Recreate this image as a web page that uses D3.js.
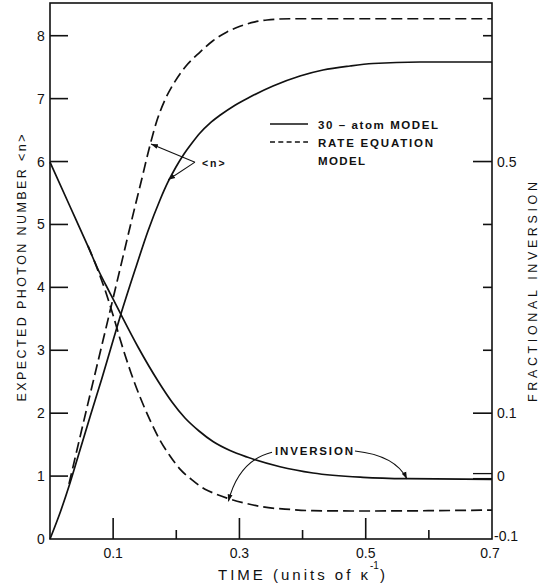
<!DOCTYPE html>
<html>
<head>
<meta charset="utf-8">
<script src="https://cdn.jsdelivr.net/npm/d3@7"></script>
<style>
  html, body { margin: 0; padding: 0; background: #fff; }
  svg { display: block; }
  text { font-family: "Liberation Sans", Arial, sans-serif; fill: #111; }
</style>
</head>
<body>
<svg id="chart" width="542" height="586"></svg>
<script>
// ---------------- DATA ----------------
// time (units of 1/kappa)
const timeMajorTicks = [0.1, 0.3, 0.5];
const timeMinorTicks = [0.2, 0.4, 0.6];
const timeTickLabels = ["0.1", "0.3", "0.5", "0.7"];
const timeTickLabelValues = [0.1, 0.3, 0.5, 0.7];

// left axis: expected photon number <n>
const photonTicks = [1, 2, 3, 4, 5, 6, 7, 8];
const photonTickLabels = [0, 1, 2, 3, 4, 5, 6, 7, 8];

// right axis: fractional inversion
const inversionMajorTicks = [0.1, 0.5];
const inversionMinorTicks = [0.2, 0.3, 0.4, 0.6, 0.7];
const inversionZeroTick = [0];
const inversionTickLabels = ["-0.1", "0", "0.1", "0.5"];
const inversionTickLabelValues = [-0.1, 0, 0.1, 0.5];

const seriesNames = ["30 – atom MODEL", "RATE EQUATION", "MODEL"];

// 30-atom model, photon number [t, <n>]
const atomPhoton = [
  [0, 0], [0.0158, 0.413], [0.0317, 0.890], [0.0475, 1.415], [0.0633, 1.939],
  [0.0819, 2.543], [0.0950, 2.988], [0.1109, 3.529], [0.1362, 4.324], [0.1552, 4.896],
  [0.1742, 5.389], [0.1869, 5.675], [0.1995, 5.913], [0.2122, 6.120], [0.2249, 6.295],
  [0.2376, 6.454], [0.2534, 6.611], [0.2692, 6.735], [0.2930, 6.896], [0.3167, 7.026],
  [0.3532, 7.201], [0.3959, 7.360], [0.4324, 7.455], [0.4751, 7.519], [0.5115, 7.558],
  [0.5860, 7.582], [0.7, 7.582]
];

// rate equation model, photon number [t, <n>]
const ratePhoton = [
  [0.0301, 0.874], [0.0475, 1.62], [0.0633, 2.29], [0.0819, 3.07], [0.0950, 3.62],
  [0.1109, 4.29], [0.1294, 5.07], [0.1441, 5.67], [0.1584, 6.26], [0.1690, 6.64],
  [0.1821, 6.98], [0.1953, 7.23], [0.2138, 7.50], [0.2376, 7.74], [0.2581, 7.92],
  [0.2803, 8.06], [0.3009, 8.15], [0.3247, 8.22], [0.3437, 8.25], [0.3801, 8.27],
  [0.475, 8.27], [0.7, 8.27]
];

// 30-atom model, fractional inversion [t, inversion]
const atomInversion = [
  [0, 0.499], [0.0317, 0.4285], [0.0602, 0.3650], [0.0765, 0.3276], [0.0950, 0.2910],
  [0.1109, 0.2597], [0.1394, 0.2052], [0.1710, 0.1512], [0.1932, 0.1178], [0.2138, 0.0923],
  [0.2360, 0.0717], [0.2581, 0.0550], [0.2851, 0.0407], [0.3120, 0.0303], [0.3643, 0.0149],
  [0.4165, 0.0049], [0.4957, -0.0019], [0.5654, -0.0041], [0.7, -0.0051]
];

// rate equation model, fractional inversion [t, inversion]
const rateInversion = [
  [0.0602, 0.366], [0.0744, 0.331], [0.0871, 0.296], [0.0998, 0.256], [0.1124, 0.213],
  [0.1283, 0.164], [0.1425, 0.126], [0.1584, 0.089], [0.1742, 0.057], [0.1901, 0.032],
  [0.2059, 0.011], [0.2249, -0.006], [0.2455, -0.021], [0.2613, -0.028], [0.2803, -0.035],
  [0.3088, -0.043], [0.3373, -0.049], [0.3801, -0.053], [0.4165, -0.055], [0.4957, -0.0555],
  [0.7, -0.054]
];

// annotations (data coordinates: t, <n>)
const nLabelPos = [0.2407, 5.977];
const nArrowFrom = [0.2296, 5.99];
const nArrowTargets = [[0.160, 6.28], [0.1873, 5.71]];
const invLabelPos = [0.3563, 1.40];
// inversion arrows: [from(t,<n>), control(t,<n>), to(t,inversion on right axis)]
const invArrowRight = { from: [0.483, 1.40], ctrl: [0.547, 1.33], to: [0.5654, -0.0046] };
const invArrowLeft = { from: [0.3516, 1.38], ctrl: [0.299, 1.25], to: [0.2825, -0.0403] };

// ---------------- CHART ----------------
const svg = d3.select("#chart");
const L = 50, R = 492, T = 3, B = 539;

const x = d3.scaleLinear().domain([0, 0.7]).range([L, R]);
const yN = d3.scaleLinear().domain([0, 8.52]).range([B, T]);
const yI = d3.scaleLinear().domain([-0.1, 0.752]).range([B, T]);

const ink = "#111";
const g = svg.append("g");

// frame
g.append("rect").attr("x", L).attr("y", T).attr("width", R - L).attr("height", B - T)
  .attr("fill", "none").attr("stroke", ink).attr("stroke-width", 1.6);

// left ticks (inward)
g.selectAll(".ltick").data(photonTicks).enter().append("line")
  .attr("x1", L).attr("x2", L + 18)
  .attr("y1", d => yN(d)).attr("y2", d => yN(d))
  .attr("stroke", ink).attr("stroke-width", 1.6);
g.selectAll(".llab").data(photonTickLabels).enter().append("text")
  .attr("x", L - 9).attr("y", d => yN(d) + 5)
  .attr("text-anchor", "middle").attr("font-size", 14).text(d => d);

// bottom ticks (inward)
g.selectAll(".bmaj").data(timeMajorTicks).enter().append("line")
  .attr("x1", d => x(d)).attr("x2", d => x(d))
  .attr("y1", B).attr("y2", B - 21).attr("stroke", ink).attr("stroke-width", 1.6);
g.selectAll(".bmin").data(timeMinorTicks).enter().append("line")
  .attr("x1", d => x(d)).attr("x2", d => x(d))
  .attr("y1", B).attr("y2", B - 9).attr("stroke", ink).attr("stroke-width", 1.6);
g.selectAll(".blab").data(timeTickLabelValues).enter().append("text")
  .attr("x", (d, i) => x(d) - (i === 3 ? 2 : 0)).attr("y", B + 19)
  .attr("text-anchor", "middle").attr("font-size", 14)
  .text((d, i) => timeTickLabels[i]);

// right ticks (inward)
g.selectAll(".rmaj").data(inversionMajorTicks).enter().append("line")
  .attr("x1", R).attr("x2", R - 19)
  .attr("y1", d => yI(d)).attr("y2", d => yI(d)).attr("stroke", ink).attr("stroke-width", 1.6);
g.selectAll(".rmin").data(inversionMinorTicks).enter().append("line")
  .attr("x1", R).attr("x2", R - 9)
  .attr("y1", d => yI(d)).attr("y2", d => yI(d)).attr("stroke", ink).attr("stroke-width", 1.6);
inversionZeroTick.forEach(v => {
  [-2.5, 2.5].forEach(off => {
    g.append("line").attr("x1", R).attr("x2", R - 19)
      .attr("y1", yI(v) + off).attr("y2", yI(v) + off)
      .attr("stroke", ink).attr("stroke-width", 1.3);
  });
});
g.selectAll(".rlab").data(inversionTickLabelValues).enter().append("text")
  .attr("x", (d) => d < 0 ? R + 2 : R + 5)
  .attr("y", d => yI(d) + (d < 0 ? 2 : 5))
  .attr("font-size", 14)
  .text((d, i) => inversionTickLabels[i]);

// axis titles
g.append("text")
  .attr("transform", `translate(26,268) rotate(-90)`)
  .attr("text-anchor", "middle").attr("font-size", 12.5)
  .attr("textLength", 267).attr("lengthAdjust", "spacing")
  .text("EXPECTED PHOTON NUMBER <n>");
g.append("text")
  .attr("transform", `translate(537,292) rotate(-90)`)
  .attr("text-anchor", "middle").attr("font-size", 12.5)
  .attr("textLength", 220).attr("lengthAdjust", "spacing")
  .text("FRACTIONAL INVERSION");
const xt = g.append("text").attr("y", 580).attr("font-size", 15);
xt.append("tspan").attr("x", 218).attr("textLength", 150).attr("lengthAdjust", "spacing").text("TIME (units of κ");
g.append("text").attr("x", 370).attr("y", 569).attr("font-size", 10).text("-1");
g.append("text").attr("x", 380).attr("y", 580).attr("font-size", 15).text(")");

// curves
const lineN = d3.line().x(d => x(d[0])).y(d => yN(d[1])).curve(d3.curveMonotoneX);
const lineI = d3.line().x(d => x(d[0])).y(d => yI(d[1])).curve(d3.curveMonotoneX);

g.append("path").datum(atomPhoton).attr("d", lineN)
  .attr("fill", "none").attr("stroke", ink).attr("stroke-width", 1.7);
g.append("path").datum(ratePhoton).attr("d", lineN)
  .attr("fill", "none").attr("stroke", ink).attr("stroke-width", 1.7).attr("stroke-dasharray", "11,5");
g.append("path").datum(atomInversion).attr("d", lineI)
  .attr("fill", "none").attr("stroke", ink).attr("stroke-width", 1.7);
g.append("path").datum(rateInversion).attr("d", lineI)
  .attr("fill", "none").attr("stroke", ink).attr("stroke-width", 1.7).attr("stroke-dasharray", "11,5");

// arrowhead marker
const defs = svg.append("defs");
defs.append("marker").attr("id", "ah").attr("viewBox", "0 0 10 10")
  .attr("refX", 10).attr("refY", 5).attr("markerWidth", 7).attr("markerHeight", 7)
  .attr("markerUnits", "userSpaceOnUse").attr("orient", "auto")
  .append("path").attr("d", "M0,1.5 L10,5 L0,8.5 Z").attr("fill", ink);

// <n> annotation
g.append("text").attr("x", x(nLabelPos[0])).attr("y", yN(nLabelPos[1]) + 4)
  .attr("font-size", 10.5).attr("font-weight", "bold").attr("letter-spacing", 2).text("<n>");
nArrowTargets.forEach(tg => {
  g.append("line")
    .attr("x1", x(nArrowFrom[0])).attr("y1", yN(nArrowFrom[1]))
    .attr("x2", x(tg[0])).attr("y2", yN(tg[1]))
    .attr("stroke", ink).attr("stroke-width", 1.1).attr("marker-end", "url(#ah)");
});

// INVERSION annotation
g.append("text").attr("x", x(invLabelPos[0])).attr("y", yN(invLabelPos[1]) + 4.5)
  .attr("font-size", 11.5).attr("font-weight", "bold")
  .attr("textLength", 78).attr("lengthAdjust", "spacing").text("INVERSION");
[invArrowRight, invArrowLeft].forEach(a => {
  const p = d3.path();
  p.moveTo(x(a.from[0]), yN(a.from[1]));
  p.quadraticCurveTo(x(a.ctrl[0]), yN(a.ctrl[1]), x(a.to[0]), yI(a.to[1]));
  g.append("path").attr("d", p.toString()).attr("fill", "none")
    .attr("stroke", ink).attr("stroke-width", 1.1).attr("marker-end", "url(#ah)");
});

// legend
const lg = g.append("g");
const legX1 = 270, legX2 = 308, legTextX = 318;
lg.append("line").attr("x1", legX1).attr("x2", legX2).attr("y1", 124).attr("y2", 124)
  .attr("stroke", ink).attr("stroke-width", 1.5);
lg.append("line").attr("x1", legX1).attr("x2", legX2).attr("y1", 142).attr("y2", 142)
  .attr("stroke", ink).attr("stroke-width", 1.5).attr("stroke-dasharray", "5,3.3");
lg.append("text").attr("x", legTextX).attr("y", 128.5).attr("font-size", 11.5).attr("font-weight", "bold")
  .attr("textLength", 120).attr("lengthAdjust", "spacing").text(seriesNames[0]);
lg.append("text").attr("x", legTextX).attr("y", 146.5).attr("font-size", 11.5).attr("font-weight", "bold")
  .attr("textLength", 115).attr("lengthAdjust", "spacing").text(seriesNames[1]);
lg.append("text").attr("x", legTextX).attr("y", 164.5).attr("font-size", 11.5).attr("font-weight", "bold")
  .attr("textLength", 47).attr("lengthAdjust", "spacing").text(seriesNames[2]);
</script>
</body>
</html>
